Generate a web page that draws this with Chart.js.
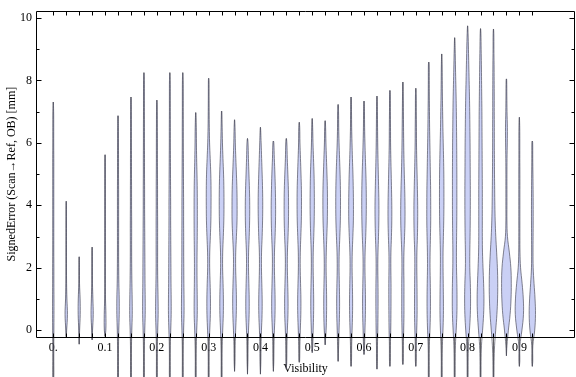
<!DOCTYPE html>
<html>
<head>
<meta charset="utf-8">
<script src="https://cdn.jsdelivr.net/npm/chart.js@4/dist/chart.umd.min.js"></script>
<style>
  html, body { margin: 0; padding: 0; background: #fff; }
  #wrap { width: 576px; height: 377px; }
</style>
</head>
<body>
<div id="wrap"><canvas id="chart" width="576" height="377"></canvas></div>
<script>
// violin positions (Visibility)
const visibility = [0, 0.025, 0.05, 0.075, 0.1, 0.125, 0.15, 0.175, 0.2, 0.225,
  0.25, 0.275, 0.3, 0.325, 0.35, 0.375, 0.4, 0.425, 0.45, 0.475,
  0.5, 0.525, 0.55, 0.575, 0.6, 0.625, 0.65, 0.675, 0.7, 0.725,
  0.75, 0.775, 0.8, 0.825, 0.85, 0.875, 0.9, 0.925];

// lowest / highest SignedError of each violin
const minError = [-1.6, -0.21, -0.45, -0.31, -0.2, -1.6, -1.6, -1.6, -1.6, -1.6,
  -1.6, -1.6, -1.6, -1.6, -1.32, -1.41, -1.41, -1.32, -1.25, -1.03,
  -0.72, -0.47, -1.0, -1.16, -0.78, -1.25, -1.16, -1.1, -1.16, -1.6,
  -1.6, -1.6, -1.6, -1.6, -1.6, -0.82, -1.16, -1.16];
const maxError = [7.31, 4.13, 2.35, 2.66, 5.62, 6.87, 7.47, 8.25, 7.37, 8.25,
  8.25, 6.97, 8.07, 7.02, 6.74, 6.14, 6.5, 6.06, 6.14, 6.66,
  6.78, 6.71, 7.23, 7.47, 7.34, 7.5, 7.68, 7.95, 7.75, 8.59,
  8.85, 9.37, 9.75, 9.66, 9.65, 8.05, 6.82, 6.06];

// error levels at which the density is read
const levels = [-1.5, -1, -0.5, 0, 0.5, 1, 1.5, 2, 2.5, 3, 3.5, 4, 4.5, 5, 5.5, 6, 6.5, 7, 7.5, 8, 8.5, 9, 9.5, 10];

// smoothed density (half width) of each violin at the levels above
const density = [
  [0.6,0.6,0.6,0.7,0.8,0.8,0.7,0.7,0.6,0.6,0.6,0.6,0.6,0.6,0.6,0.5,0.5,0.4,0,0,0,0,0,0],
  [0,0,0,0.5,1.4,0.8,0.4,0.3,0.3,0.3,0.3,0.2,0,0,0,0,0,0,0,0,0,0,0,0],
  [0,0,0,0.5,1.2,1.1,0.4,0.3,0,0,0,0,0,0,0,0,0,0,0,0,0,0,0,0],
  [0,0,0,0.5,1.3,0.9,0.4,0.3,0.2,0,0,0,0,0,0,0,0,0,0,0,0,0,0,0],
  [0,0,0,0.9,1.0,0.5,0.3,0.3,0.3,0.3,0.3,0.3,0.3,0.3,0.2,0,0,0,0,0,0,0,0,0],
  [0.5,0.5,0.6,0.9,1.4,1.4,1.0,0.8,0.7,0.7,0.7,0.7,0.7,0.6,0.6,0.5,0.4,0,0,0,0,0,0,0],
  [0.5,0.5,0.6,1.0,1.5,1.4,1.1,0.9,0.8,0.8,0.8,0.7,0.7,0.6,0.6,0.5,0.5,0.4,0,0,0,0,0,0],
  [0.5,0.5,0.6,1.0,1.5,1.5,1.3,1.2,1.1,1.0,0.9,0.8,0.8,0.7,0.7,0.6,0.6,0.5,0.5,0.4,0,0,0,0],
  [0.5,0.5,0.6,1.0,1.5,1.4,1.1,0.9,0.9,0.9,0.9,0.8,0.8,0.7,0.6,0.6,0.5,0.4,0,0,0,0,0,0],
  [0.5,0.5,0.6,1.1,1.6,1.6,1.4,1.3,1.2,1.1,1.0,1.0,0.9,0.8,0.7,0.6,0.6,0.5,0.5,0.4,0,0,0,0],
  [0.5,0.5,0.6,1.0,1.5,1.5,1.3,1.2,1.1,1.1,1.0,1.0,0.9,0.8,0.7,0.6,0.6,0.5,0.5,0.4,0,0,0,0],
  [0.5,0.5,0.7,1.2,1.8,1.8,1.6,1.5,1.6,1.8,1.9,1.9,1.8,1.5,1.1,0.8,0.6,0,0,0,0,0,0,0],
  [0.5,0.5,0.7,1.3,2.0,2.1,1.7,1.2,1.3,2.0,2.6,2.8,2.8,2.5,1.8,1.1,0.7,0.5,0.4,0.3,0,0,0,0],
  [0.5,0.5,0.7,1.3,2.0,2.1,1.7,1.2,1.3,2.0,2.6,2.8,2.7,2.3,1.6,1.0,0.6,0.2,0,0,0,0,0,0],
  [0,0.5,0.7,1.3,2.0,2.2,1.8,1.3,1.4,2.2,2.9,3.0,2.8,2.2,1.5,0.9,0.5,0,0,0,0,0,0,0],
  [0,0.5,0.7,1.2,1.9,2.0,1.6,1.2,1.3,2.0,2.5,2.6,2.3,1.7,1.1,0.6,0,0,0,0,0,0,0,0],
  [0,0.5,0.7,1.2,1.9,2.0,1.6,1.2,1.3,2.0,2.5,2.7,2.5,2.0,1.4,0.8,0,0,0,0,0,0,0,0],
  [0,0.5,0.7,1.2,1.9,2.0,1.6,1.2,1.3,2.0,2.5,2.6,2.3,1.8,1.1,0.5,0,0,0,0,0,0,0,0],
  [0,0.5,0.7,1.2,1.9,2.0,1.6,1.2,1.3,2.0,2.5,2.6,2.4,1.8,1.1,0.6,0,0,0,0,0,0,0,0],
  [0,0.4,0.7,1.2,1.8,1.9,1.5,1.1,1.2,1.8,2.4,2.6,2.5,2.0,1.4,0.8,0.5,0,0,0,0,0,0,0],
  [0,0,0.6,1.1,1.6,1.7,1.4,1.1,1.2,1.8,2.3,2.5,2.4,2.1,1.5,0.9,0.5,0,0,0,0,0,0,0],
  [0,0,0,1.1,1.6,1.7,1.4,1.1,1.3,1.9,2.5,2.7,2.6,2.1,1.5,0.9,0.5,0,0,0,0,0,0,0],
  [0,0,0.6,1.1,1.6,1.7,1.4,1.1,1.3,2.0,2.6,2.8,2.7,2.3,1.7,1.1,0.7,0.5,0,0,0,0,0,0],
  [0,0.5,0.7,1.2,1.7,1.8,1.5,1.2,1.4,2.1,2.7,2.8,2.6,2.2,1.6,1.1,0.7,0.5,0,0,0,0,0,0],
  [0,0,0.6,1.1,1.6,1.7,1.4,1.1,1.3,2.0,2.5,2.7,2.6,2.2,1.6,1.1,0.7,0.5,0,0,0,0,0,0],
  [0,0.5,0.6,1.0,1.2,1.3,1.2,1.0,1.2,1.8,2.2,2.3,2.0,1.6,1.2,0.9,0.7,0.5,0,0,0,0,0,0],
  [0,0.5,0.6,1.0,1.2,1.3,1.3,1.1,1.2,1.8,2.2,2.2,1.9,1.5,1.1,0.8,0.7,0.5,0.4,0,0,0,0,0],
  [0,0.5,0.6,1.0,1.3,1.3,1.3,1.1,1.3,2.0,2.5,2.5,2.2,1.7,1.3,1.0,0.8,0.6,0.4,0,0,0,0,0],
  [0,0.5,0.6,1.1,1.5,1.5,1.4,1.2,1.3,1.9,2.2,2.2,1.9,1.5,1.1,0.8,0.7,0.5,0.4,0,0,0,0,0],
  [0.5,0.5,0.7,1.4,1.9,2.0,1.8,1.5,1.6,2.0,2.3,2.3,2.2,1.9,1.6,1.3,1.0,0.8,0.6,0.5,0.4,0,0,0],
  [0.5,0.5,0.8,1.5,2.0,2.0,1.8,1.6,1.6,2.0,2.4,2.6,2.6,2.5,2.2,1.8,1.4,1.1,0.8,0.6,0.4,0,0,0],
  [0.5,0.6,0.9,1.8,2.6,2.8,2.6,2.2,2.1,2.3,2.5,2.6,2.6,2.6,2.5,2.4,2.2,2.0,1.7,1.3,0.9,0.5,0,0],
  [0.5,0.6,1.0,2.2,3.2,3.5,3.2,2.6,2.6,2.9,3.1,3.2,3.2,3.1,3.0,2.9,2.7,2.5,2.2,1.8,1.4,1.0,0.5,0],
  [0.5,0.6,1.1,2.4,3.6,4.0,3.6,2.9,2.3,2.1,2.1,2.1,2.1,2.0,1.9,1.8,1.7,1.6,1.4,1.2,1.0,0.7,0.4,0],
  [0.5,0.7,1.3,2.6,4.0,4.8,5.0,4.6,3.7,2.7,2.0,1.6,1.4,1.2,1.1,1.0,1.0,0.9,0.9,0.8,0.7,0.5,0.4,0],
  [0,0,0.6,2.3,4.3,5.4,5.7,5.2,3.4,1.2,0.6,0.6,0.6,0.6,0.7,1.0,1.1,0.7,0.5,0.3,0,0,0,0],
  [0,0.5,0.6,3.0,4.8,4.6,3.2,1.4,0.7,0.6,0.6,0.6,0.6,0.6,0.5,0.5,0.4,0,0,0,0,0,0,0],
  [0,0.5,0.6,2.8,3.7,3.2,2.0,1.0,0.8,0.9,1.0,1.0,0.9,0.7,0.5,0.4,0,0,0,0,0,0,0,0]
];

// tick labels
const xTickLabels = ['0.', '0.1', '0.2', '0.3', '0.4', '0.5', '0.6', '0.7', '0.8', '0.9'];
const yMajorTicks = [0, 2, 4, 6, 8, 10];
const yMinorTicks = [1, 3, 5, 7, 9];

const densityToX = 0.025 / 12.95 * 0.85;   // density unit -> Visibility width
const violinFill = 'rgb(202, 208, 245)';
const violinEdge = 'rgba(80, 80, 95, 0.7)';
const overflow = { left: 0, top: 0, right: 0, bottom: 45 };

Chart.defaults.font.family = "'Liberation Serif', 'Times New Roman', serif";
Chart.defaults.font.size = 12;
Chart.defaults.color = '#000';

const datasets = [];
visibility.forEach((v, i) => {
    const lo = minError[i], hi = maxError[i];
    const inner = [];
    levels.forEach((l, k) => {
        if (l > lo && l < hi) inner.push({ y: l, w: density[i][k] * densityToX });
    });
    const pts = [{ x: v, y: lo }];
    inner.forEach(p => pts.push({ x: v + p.w, y: p.y }));
    pts.push({ x: v, y: hi });
    inner.slice().reverse().forEach(p => pts.push({ x: v - p.w, y: p.y }));
    pts.push({ x: v, y: lo });
    datasets.push({
        data: pts,
        showLine: true,
        fill: 'shape',
        backgroundColor: violinFill,
        borderColor: violinEdge,
        borderWidth: 1,
        tension: 0.4,
        pointRadius: 0,
        clip: overflow
    });
    // axis of the violin
    datasets.push({
        data: [{ x: v, y: lo }, { x: v, y: hi }],
        showLine: true,
        fill: false,
        borderColor: 'rgba(40, 40, 45, 0.75)',
        borderWidth: 1,
        pointRadius: 0,
        clip: overflow
    });
});

// frame with inward ticks, Mathematica style
const frameTicks = {
    id: 'frameTicks',
    afterDatasetsDraw(chart) {
        const { ctx, chartArea: a, scales: { x, y } } = chart;
        const L = Math.round(a.left) + 0.5, R = Math.round(a.right) - 0.5;
        const T = Math.round(a.top) + 0.5, B = Math.round(a.bottom) + 0.5;
        ctx.save();
        ctx.strokeStyle = '#000';
        ctx.lineWidth = 1;
        ctx.beginPath();
        ctx.moveTo(L, B); ctx.lineTo(L, T); ctx.lineTo(R, T); ctx.lineTo(R, B);
        ctx.moveTo(L, B); ctx.lineTo(R, B);
        visibility.forEach(v => {
            const px = Math.round(x.getPixelForValue(v)) + 0.5;
            ctx.moveTo(px, T); ctx.lineTo(px, T + 4);
            ctx.moveTo(px, B); ctx.lineTo(px, B - 4);
        });
        yMajorTicks.forEach(t => {
            const py = Math.round(y.getPixelForValue(t)) + 0.5;
            ctx.moveTo(L, py); ctx.lineTo(L + 5, py);
            ctx.moveTo(R, py); ctx.lineTo(R - 5, py);
        });
        yMinorTicks.forEach(t => {
            const py = Math.round(y.getPixelForValue(t)) + 0.5;
            ctx.moveTo(L, py); ctx.lineTo(L + 3, py);
            ctx.moveTo(R, py); ctx.lineTo(R - 3, py);
        });
        ctx.stroke();
        ctx.restore();
    }
};

new Chart(document.getElementById('chart'), {
    type: 'scatter',
    data: { datasets },
    options: {
        responsive: false,
        animation: false,
        events: [],
        layout: { padding: { top: 4, right: 1, left: 0, bottom: 0 } },
        plugins: { legend: { display: false }, tooltip: { enabled: false } },
        scales: {
            x: {
                type: 'linear',
                min: -0.0334,
                max: 1.0074,
                grid: { display: false, drawTicks: false },
                border: { display: false },
                ticks: {
                    stepSize: 0.1,
                    includeBounds: false,
                    autoSkip: false,
                    maxRotation: 0,
                    padding: 4,
                    callback: v => xTickLabels[Math.round(v * 10)] || ''
                },
                title: { display: true, text: 'Visibility', padding: { top: 0, bottom: 1 } },
                afterFit: s => { s.height = 40; }
            },
            y: {
                min: -0.22,
                max: 10.22,
                grid: { display: false, drawTicks: false },
                border: { display: false },
                ticks: { stepSize: 2, includeBounds: false, padding: 4 },
                title: { display: true, text: 'SignedError (Scan\u2192Ref, OB) [mm]', padding: { top: 5, bottom: 0 } },
                afterFit: s => { s.width = 36; }
            }
        }
    },
    plugins: [frameTicks]
});
</script>
</body>
</html>
